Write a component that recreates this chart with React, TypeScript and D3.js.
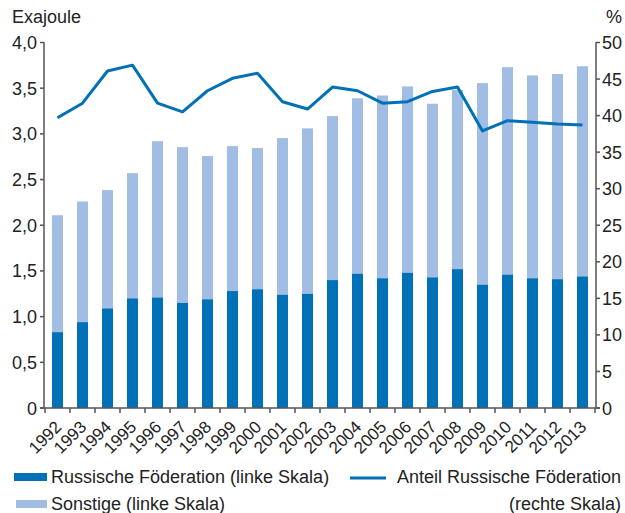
import { useEffect, useRef } from 'react';
import * as d3 from 'd3';

const years = ['1992', '1993', '1994', '1995', '1996', '1997', '1998', '1999', '2000', '2001', '2002',
  '2003', '2004', '2005', '2006', '2007', '2008', '2009', '2010', '2011', '2012', '2013'];

// Exajoule
const russia = [0.83, 0.94, 1.09, 1.2, 1.21, 1.15, 1.19, 1.28, 1.3, 1.24, 1.25,
  1.4, 1.47, 1.42, 1.48, 1.43, 1.52, 1.35, 1.46, 1.42, 1.41, 1.44];
const total = [2.11, 2.26, 2.385, 2.57, 2.92, 2.855, 2.757, 2.866, 2.845, 2.954, 3.06,
  3.195, 3.39, 3.42, 3.52, 3.33, 3.48, 3.556, 3.73, 3.64, 3.655, 3.74];
// Anteil in %
const share = [39.7, 41.7, 46.1, 46.9, 41.7, 40.5, 43.4, 45.1, 45.8, 41.9, 40.9,
  43.9, 43.4, 41.7, 41.9, 43.3, 43.9, 37.9, 39.3, 39.1, 38.85, 38.7];

const leftTicks = [0, 0.5, 1, 1.5, 2, 2.5, 3, 3.5, 4];
const rightTicks = [0, 5, 10, 15, 20, 25, 30, 35, 40, 45, 50];

const DARK = '#0071b7';
const LIGHT = '#a2bde4';
const AXIS = '#555555';
const TEXT = '#222222';
const FONT = "'Liberation Sans', Arial, sans-serif";

function Chart() {
  const svgRef = useRef(null);

  useEffect(() => {
    const width = 625;
    const height = 513;
    const left = 44;
    const right = 596;
    const top = 42.5;
    const bottom = 408;

    const svg = d3.select(svgRef.current);
    svg.selectAll('*').remove();
    svg.attr('width', width).attr('height', height);

    const x = d3.scaleBand().domain(years).range([45, 595]).paddingInner(0.56).paddingOuter(0.28);
    const yL = d3.scaleLinear().domain([0, 4]).range([bottom, top]);
    const yR = d3.scaleLinear().domain([0, 50]).range([bottom, top]);

    // bars: Sonstige (top part) then Russland
    svg.append('g')
      .selectAll('rect')
      .data(years)
      .enter()
      .append('rect')
      .attr('x', d => x(d))
      .attr('width', x.bandwidth())
      .attr('y', (d, i) => yL(total[i]))
      .attr('height', (d, i) => yL(russia[i]) - yL(total[i]))
      .attr('fill', LIGHT);

    svg.append('g')
      .selectAll('rect')
      .data(years)
      .enter()
      .append('rect')
      .attr('x', d => x(d))
      .attr('width', x.bandwidth())
      .attr('y', (d, i) => yL(russia[i]))
      .attr('height', (d, i) => bottom - yL(russia[i]))
      .attr('fill', DARK);

    // share line
    const line = d3.line()
      .x((d, i) => x(years[i]) + x.bandwidth() / 2)
      .y(d => yR(d));

    svg.append('path')
      .datum(share)
      .attr('d', line)
      .attr('fill', 'none')
      .attr('stroke', DARK)
      .attr('stroke-width', 3)
      .attr('stroke-linejoin', 'round');

    // axes
    const axes = svg.append('g').attr('stroke', AXIS).attr('stroke-width', 1.5);
    axes.append('line').attr('x1', left).attr('x2', left).attr('y1', top - 0.5).attr('y2', bottom);
    axes.append('line').attr('x1', right).attr('x2', right).attr('y1', top - 0.5).attr('y2', bottom);
    axes.append('line').attr('x1', left - 4).attr('x2', right + 4).attr('y1', bottom).attr('y2', bottom);

    leftTicks.forEach(t => {
      axes.append('line').attr('x1', left - 4).attr('x2', left).attr('y1', yL(t)).attr('y2', yL(t));
    });
    rightTicks.forEach(t => {
      axes.append('line').attr('x1', right).attr('x2', right + 4).attr('y1', yR(t)).attr('y2', yR(t));
    });
    const step = x.step();
    d3.range(years.length + 1).forEach(i => {
      const tx = 45 + i * step;
      axes.append('line').attr('x1', tx).attr('x2', tx).attr('y1', bottom).attr('y2', bottom + 5);
    });

    const txt = svg.append('g').attr('font-family', FONT).attr('fill', TEXT);

    txt.selectAll('.lt')
      .data(leftTicks)
      .enter()
      .append('text')
      .attr('x', 37)
      .attr('y', d => yL(d) + 6.5)
      .attr('text-anchor', 'end')
      .attr('font-size', 18)
      .text(d => d === 0 ? '0' : d3.format('.1f')(d).replace('.', ','));

    txt.selectAll('.rt')
      .data(rightTicks)
      .enter()
      .append('text')
      .attr('x', 602)
      .attr('y', d => yR(d) + 6.5)
      .attr('font-size', 18)
      .text(d => d);

    txt.append('text').attr('x', 12).attr('y', 23).attr('font-size', 18).text('Exajoule');
    txt.append('text').attr('x', 622).attr('y', 23).attr('font-size', 18).attr('text-anchor', 'end').text('%');

    txt.selectAll('.xt')
      .data(years)
      .enter()
      .append('text')
      .attr('text-anchor', 'end')
      .attr('font-size', 17)
      .attr('transform', d => {
        const cx = x(d) + x.bandwidth() / 2 + 5;
        return `translate(${cx},${bottom + 20}) rotate(-45)`;
      })
      .text(d => d);

    // legend
    svg.append('rect').attr('x', 14).attr('y', 473).attr('width', 33).attr('height', 8).attr('fill', DARK);
    svg.append('rect').attr('x', 16).attr('y', 500).attr('width', 31).attr('height', 8).attr('fill', LIGHT);
    svg.append('line').attr('x1', 350).attr('x2', 386).attr('y1', 478).attr('y2', 478)
      .attr('stroke', DARK).attr('stroke-width', 3);

    txt.append('text').attr('x', 51).attr('y', 483).attr('font-size', 18).text('Russische Föderation (linke Skala)');
    txt.append('text').attr('x', 51).attr('y', 510).attr('font-size', 18).text('Sonstige (linke Skala)');
    txt.append('text').attr('x', 621).attr('y', 483).attr('font-size', 18).attr('text-anchor', 'end').text('Anteil Russische Föderation');
    txt.append('text').attr('x', 621).attr('y', 510).attr('font-size', 18).attr('text-anchor', 'end').text('(rechte Skala)');
  }, []);

  return <svg ref={svgRef} style={{ display: 'block' }}></svg>;
}

export default function App() {
  useEffect(() => {
    document.body.style.margin = '0';
  }, []);
  return <Chart />;
}
